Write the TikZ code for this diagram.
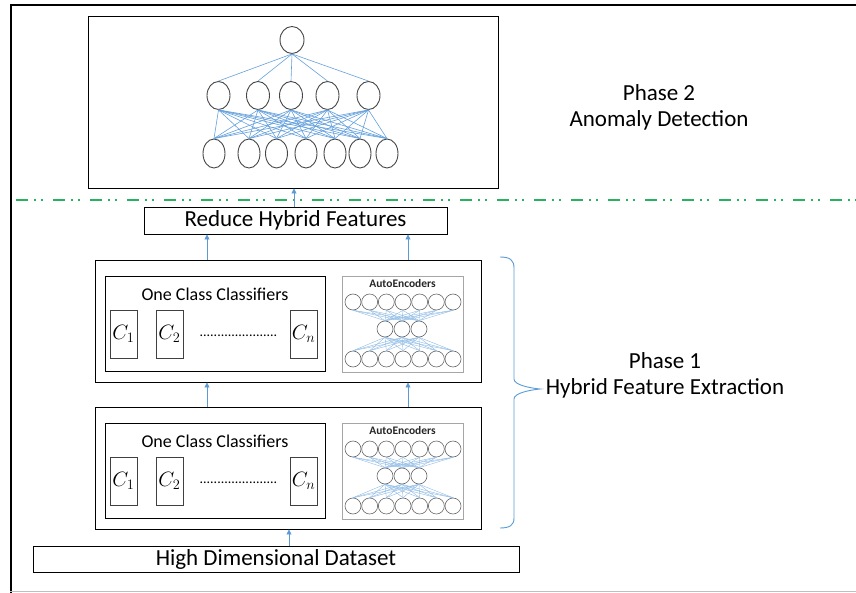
\documentclass[tikz,border=0pt]{standalone}
\usepackage{fontspec}
\setmainfont{Carlito}
\usetikzlibrary{shapes.geometric,arrows.meta}

\definecolor{linkblue}{RGB}{91,155,213}
\definecolor{edgeblue}{RGB}{100,160,220}
\definecolor{aeblue}{RGB}{140,185,228}
\definecolor{phasegreen}{RGB}{40,178,95}
\definecolor{unitgray}{RGB}{70,70,70}

\tikzset{
  plainbox/.style={draw=black, line width=0.9pt, inner sep=0pt},
  labeltext/.style={inner sep=0pt, font=\fontsize{23}{26}\selectfont},
  titletext/.style={inner sep=0pt, font=\fontsize{18}{21}\selectfont},
  cbox/.style={draw=black!75, line width=0.8pt, minimum width=27, minimum height=48, inner sep=0pt, font=\fontsize{21}{24}\selectfont},
  aebox/.style={draw=black!35, line width=0.9pt, minimum width=121, minimum height=96, inner sep=0pt},
  aelabel/.style={inner sep=0pt, font=\fontsize{11.5}{13}\selectfont\bfseries, text=black!85},
  aeunit/.style={circle, draw=black!60, line width=0.6pt, minimum size=16, inner sep=0pt, fill=white},
  neuron/.style={ellipse, draw=unitgray, line width=0.9pt, minimum width=23, minimum height=28, inner sep=0pt, fill=white},
  nnedge/.style={draw=edgeblue, line width=0.6pt},
  aeedge/.style={draw=aeblue, line width=0.4pt},
  flow/.style={draw=linkblue, line width=0.8pt, -{Triangle[width=5pt,length=5pt]}},
  brace/.style={draw=linkblue, line width=0.9pt},
  separator/.style={draw=phasegreen, line width=1.8pt, dash pattern=on 12pt off 6pt on 2pt off 5pt on 2pt off 10pt},
}

% one hybrid feature extraction stage: classifiers beside an autoencoder
\newcommand\hfblock[2]{%
  \begin{scope}[shift={(0,#2)}]
    \node[plainbox, minimum width=386, minimum height=122] (#1blk) at (288,321) {};
    \node[plainbox, line width=0.8pt, minimum width=220, minimum height=95] (#1occ) at (215,323.5) {};
    \node[titletext] (#1ttl) at (215,294) {One Class Classifiers};
    \node[cbox] (#1c1) at (123.5,334) {$C_1$};
    \node[cbox] (#1c2) at (169.5,334) {$C_2$};
    \node[cbox] (#1cn) at (303.5,334) {$C_n$};
    \node[inner sep=0pt, font=\fontsize{14}{14}\selectfont] (#1dots) at (238.5,336) {......................};
    \node[aebox] (#1ae) at (402.5,324) {};
    \node[aelabel] (#1ael) at (402.5,284) {AutoEncoders};
    \foreach \i in {1,...,7} {
      \node[aeunit] (#1t\i) at ({353+(\i-1)*16.67},302) {};
      \node[aeunit] (#1b\i) at ({353+(\i-1)*16.67},359) {};
    }
    \foreach \i in {1,2,3}
      \node[aeunit] (#1m\i) at ({385+(\i-1)*17},329) {};
    \begin{scope}[on background layer/.try]
    \end{scope}
    \foreach \i in {1,...,7}
      \foreach \j in {1,2,3} {
        \draw[aeedge] (#1t\i.south) -- (#1m\j.north);
        \draw[aeedge] (#1m\j.south) -- (#1b\i.north);
      }
  \end{scope}%
}

\begin{document}
\begin{tikzpicture}[x=1pt, y=-1pt]
\useasboundingbox (0,0) rectangle (856,593);

% page frame
\draw[line width=2.6pt, black] (11,593) -- (11,5) -- (856,5);
\draw[line width=1.6pt, black!25] (10,591.5) -- (856,591.5);

% phase 2: anomaly detection network
\node[plainbox, minimum width=410, minimum height=172] (p2) at (293,102) {};
\node[neuron, minimum width=24, minimum height=27] (top) at (292,40) {};
\foreach \x [count=\i] in {218.5,258,291,327.5,368.5}
  \node[neuron] (h\i) at (\x,95.5) {};
\foreach \x [count=\i] in {214,249,276.5,306,335,360,387}
  \node[neuron, minimum width=22, minimum height=29] (in\i) at (\x,153.5) {};
\foreach \i in {1,...,5} {
  \draw[nnedge] (top.south) -- (h\i.north);
  \foreach \j in {1,...,7}
    \draw[nnedge] (h\i.south) -- (in\j.north);
}

\node[labeltext, align=center] (ph2) at (659,107) {Phase 2\\Anomaly Detection};

% phase separator
\coordinate (sepL) at (16,200);
\coordinate (sepR) at (856,200);
\draw[separator] (sepL) -- (sepR);

% reduced features
\node[plainbox, minimum width=303, minimum height=27, labeltext] (red) at (295.5,220.5) {Reduce Hybrid Features};
\coordinate (colC) at (294,0);
\draw[flow] (red.north -| colC) -- (p2.south -| colC);

% phase 1: two hybrid feature extraction stages
\hfblock{U}{0}
\hfblock{L}{147}

\coordinate (colA) at (207,0);
\coordinate (colB) at (408,0);
\coordinate (colD) at (289,0);
\draw[flow] (Ublk.north -| colA) -- (red.south -| colA);
\draw[flow] (Ublk.north -| colB) -- (red.south -| colB);
\draw[flow] (Lblk.north -| colA) -- (Ublk.south -| colA);
\draw[flow] (Lblk.north -| colB) -- (Ublk.south -| colB);

% input data
\node[plainbox, minimum width=486, minimum height=26, labeltext] (hdd) at (276,559) {High Dimensional Dataset};
\draw[flow] (hdd.north -| colD) -- (Lblk.south -| colD);

% brace grouping phase 1
\draw[brace] (500,257) .. controls (510,257) and (514,260) .. (514,268)
  -- (514,379) .. controls (514,385) and (530,388) .. (540,389)
  .. controls (530,390) and (514,393) .. (514,399)
  -- (514,518) .. controls (514,525) and (510,528) .. (500,528);

\node[labeltext, align=center] (ph1) at (665,375.5) {Phase 1\\Hybrid Feature Extraction};
\end{tikzpicture}
\end{document}
